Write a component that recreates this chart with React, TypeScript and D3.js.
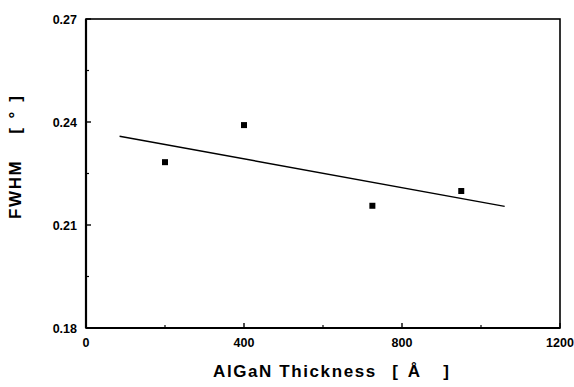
import React from "react";
import * as d3 from "d3";

const thickness = [200, 400, 725, 950];
const fwhm = [0.2283, 0.2391, 0.2156, 0.2199];
const fitRange = [85, 1060];
const xTicks = [0, 400, 800, 1200];
const xMinor = [200, 600, 1000];
const yTicks = [0.18, 0.21, 0.24, 0.27];
const yMinor = [0.195, 0.225, 0.255];

const W = 574, H = 387;
const M = { left: 86, right: 14, top: 19, bottom: 59 };

export default function App() {
  const x = d3.scaleLinear().domain([0, 1200]).range([M.left, W - M.right]);
  const y = d3.scaleLinear().domain([0.18, 0.27]).range([H - M.bottom, M.top]);

  const mx = d3.mean(thickness)!;
  const my = d3.mean(fwhm)!;
  let sxy = 0, sxx = 0;
  thickness.forEach((t, i) => {
    sxy += (t - mx) * (fwhm[i] - my);
    sxx += (t - mx) * (t - mx);
  });
  const slope = sxy / sxx;
  const fit = fitRange.map((t) => [t, my + slope * (t - mx)] as [number, number]);
  const line = d3.line<[number, number]>().x((d) => x(d[0])).y((d) => y(d[1]));

  const font = "'Liberation Sans', Arial, Helvetica, sans-serif";
  const x0 = x(0), x1 = x(1200), y0 = y(0.18), y1 = y(0.27);
  const tStyle = { fontFamily: font, fontWeight: "bold" as const, fontSize: 17 };

  return (
    <svg width={W} height={H} style={{ position: "absolute", left: 0, top: 0, background: "#fff" }}>
      <rect x={x0} y={y1} width={x1 - x0} height={y0 - y1} fill="none" stroke="#000" strokeWidth={1.6} />
      <line x1={x0} x2={x0} y1={y1} y2={y0} stroke="#000" strokeWidth={2.2} />
      <line x1={x0} x2={x1} y1={y0} y2={y0} stroke="#000" strokeWidth={2.2} />
      {xTicks.map((t) => (
        <g key={"xt" + t}>
          <line x1={x(t)} x2={x(t)} y1={y0} y2={y0 - 5} stroke="#000" strokeWidth={1.4} />
          <text x={x(t)} y={y0 + 19} textAnchor="middle" fontFamily={font} fontWeight="bold" fontSize={12.5}>{t}</text>
        </g>
      ))}
      {xMinor.map((t) => (
        <line key={"xm" + t} x1={x(t)} x2={x(t)} y1={y0} y2={y0 - 3} stroke="#000" strokeWidth={1.2} />
      ))}
      {yTicks.map((t) => (
        <g key={"yt" + t}>
          <line x1={x0} x2={x0 + 5} y1={y(t)} y2={y(t)} stroke="#000" strokeWidth={1.4} />
          <text x={x0 - 9} y={y(t) + 4.5} textAnchor="end" fontFamily={font} fontWeight="bold" fontSize={12.5}>{t.toFixed(2)}</text>
        </g>
      ))}
      {yMinor.map((t) => (
        <line key={"ym" + t} x1={x0} x2={x0 + 3} y1={y(t)} y2={y(t)} stroke="#000" strokeWidth={1.2} />
      ))}
      <path d={line(fit)!} fill="none" stroke="#000" strokeWidth={1.5} />
      {thickness.map((t, i) => (
        <rect key={"p" + i} x={x(t) - 3} y={y(fwhm[i]) - 3} width={6} height={6} fill="#000" />
      ))}
      <g {...tStyle}>
        <text x={213} y={377} letterSpacing={1.6}>AlGaN Thickness</text>
        <text x={395} y={377} textAnchor="middle">[</text>
        <text x={414} y={377} textAnchor="middle">Å</text>
        <text x={446} y={377} textAnchor="middle">]</text>
      </g>
      <g {...tStyle} transform="rotate(-90)">
        <text x={-219} y={21} letterSpacing={1.6}>FWHM</text>
        <text x={-131} y={21} textAnchor="middle">[</text>
        <text x={-115} y={21} textAnchor="middle">°</text>
        <text x={-99} y={21} textAnchor="middle">]</text>
      </g>
    </svg>
  );
}
